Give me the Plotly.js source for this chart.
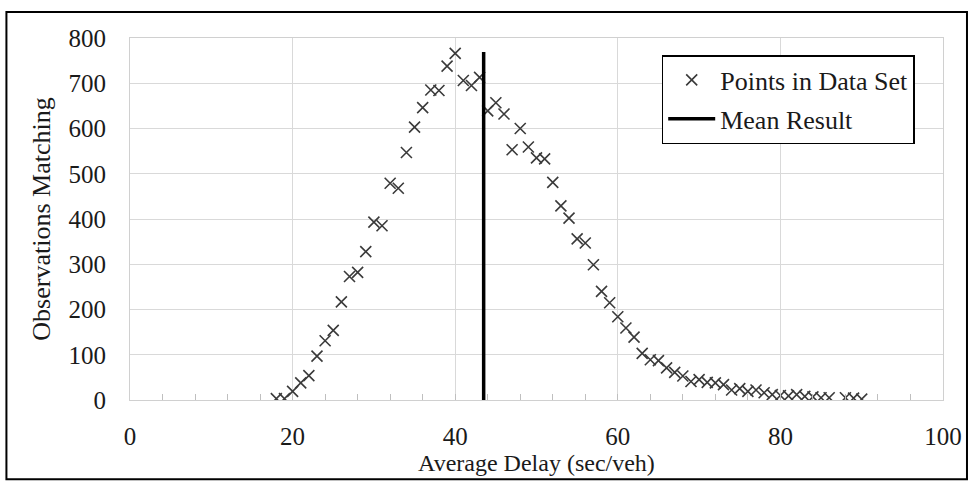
<!DOCTYPE html>
<html>
<head>
<meta charset="utf-8">
<script src="https://cdn.plot.ly/plotly-3.0.1.min.js"></script>
<style>
html,body{margin:0;padding:0;background:#fff;}
#chart{width:974px;height:489px;}
</style>
</head>
<body>
<div id="chart"></div>
<script>
const delay = [18,19,20,21,22,23,24,25,26,27,28,29,30,31,32,33,34,35,36,37,38,39,40,41,42,43,44,45,46,47,48,49,50,51,52,53,54,55,56,57,58,59,60,61,62,63,64,65,66,67,68,69,70,71,72,73,74,75,76,77,78,79,80,81,82,83,84,85,86,88,89,90];
const observations = [3,3,19,38,54,97,131,154,217,273,282,328,393,385,479,468,547,603,646,685,684,738,766,706,695,713,639,657,632,553,600,559,535,533,481,429,402,356,347,299,240,215,184,159,139,103,89,87,71,61,53,41,45,39,38,34,22,25,19,22,16,12,10,9,12,8,7,5,5,5,4,2];
const meanX = [43.5, 43.5];
const meanY = [0, 769];
const xTicks = [0,20,40,60,80,100];
const yTicks = [0,100,200,300,400,500,600,700,800];
const seriesNames = ['Points in Data Set', 'Mean Result'];
const xTitle = 'Average Delay (sec/veh)';
const yTitle = 'Observations Matching';

const font = {family: '"Liberation Serif", "Times New Roman", serif', color: '#1a1a1a'};
const f = s => Object.assign({size: s}, font);

const traces = [
  {
    x: delay, y: observations, type: 'scatter', mode: 'markers', name: seriesNames[0],
    legendgroup: 'a',
    marker: {symbol: 'x-thin', size: 11, color: '#3a3a3a', line: {color: '#3a3a3a', width: 1.6}}
  },
  {
    x: meanX, y: meanY, type: 'scatter', mode: 'lines', name: seriesNames[1],
    legendgroup: 'b',
    line: {color: '#000', width: 3.5}
  }
];

const layout = {
  width: 974, height: 489,
  margin: {l: 130, r: 31, t: 38, b: 89},
  paper_bgcolor: '#fff', plot_bgcolor: '#fff',
  font: f(25),
  showlegend: true,
  legend: {
    x: 0.654, y: 0.953, xanchor: 'left', yanchor: 'top',
    bordercolor: '#000', borderwidth: 1.5, bgcolor: '#fff',
    font: f(26),
    traceorder: 'grouped', tracegroupgap: 2,
    itemwidth: 47
  },
  xaxis: {
    range: [0, 100], tickvals: xTicks, ticktext: xTicks.map(String),
    showgrid: true, gridcolor: '#d9d9d9', gridwidth: 1,
    showline: true, mirror: true, linecolor: '#d0d0d0', linewidth: 1,
    ticks: 'inside', ticklen: 6, tickcolor: '#bfbfbf',
    minor: {dtick: 4, tick0: 0, ticks: 'inside', ticklen: 6, tickcolor: '#bfbfbf', showgrid: false},
    zeroline: false,
    ticklabelstandoff: 14,
    tickfont: f(25),
    title: {text: xTitle, font: f(24), standoff: 5},
    automargin: false
  },
  yaxis: {
    range: [0, 800], tickvals: yTicks, ticktext: yTicks.map(String),
    showgrid: true, gridcolor: '#d9d9d9', gridwidth: 1,
    showline: true, mirror: true, linecolor: '#d0d0d0', linewidth: 1,
    ticks: '', zeroline: false,
    ticklabelstandoff: 18,
    tickfont: f(25),
    title: {text: yTitle, font: f(26), standoff: 10},
    automargin: false
  },
  shapes: [
    {type: 'rect', xref: 'paper', yref: 'paper', x0: -0.152, x1: 1.0295, y0: -0.219, y1: 1.0717,
     line: {color: '#000', width: 2}, fillcolor: 'rgba(0,0,0,0)', layer: 'above'}
  ]
};

Plotly.newPlot('chart', traces, layout, {staticPlot: true, displayModeBar: false});
</script>
</body>
</html>
